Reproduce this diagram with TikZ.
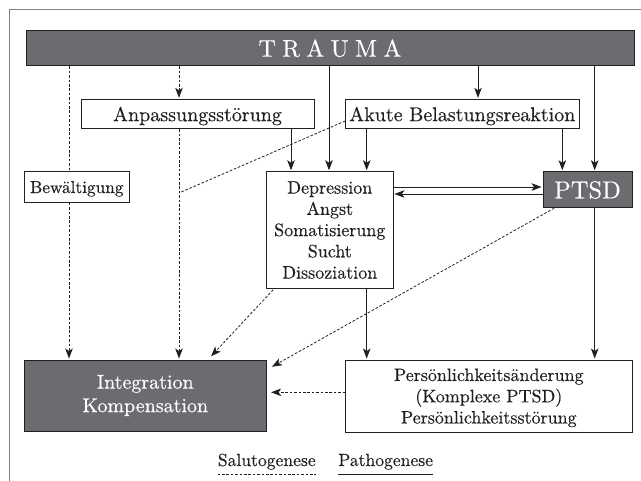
\documentclass[tikz,border=0pt]{standalone}
\usepackage{fontspec}
\setmainfont{lmroman10-regular.otf}[FakeBold=0.35]
\usetikzlibrary{arrows.meta,calc}
\definecolor{boxgray}{HTML}{6B6C6F}
\definecolor{ink}{HTML}{231F20}
\definecolor{framegray}{HTML}{808080}
\tikzset{
  box/.style={draw=ink, line width=0.9pt, fill=white, text=ink, inner sep=0pt, align=center},
  darkbox/.style={box, fill=boxgray, text=white},
  tip/.style={-{Stealth[length=10pt,width=7.5pt,inset=2.5pt]}},
  solline/.style={draw=ink, line width=0.9pt},
  solarrow/.style={solline, tip, shorten >=1pt},
  dashline/.style={draw=ink, line width=0.8pt, dash pattern=on 2.6pt off 1.8pt},
  dasharrow/.style={dashline, tip, shorten >=1pt},
  fa/.style={font=\fontsize{20}{23.5}\selectfont},
  fb/.style={font=\fontsize{18}{21.25}\selectfont},
}
\begin{document}
\begin{tikzpicture}[x=1pt,y=-1pt]
\useasboundingbox (0,0) rectangle (641,481);
% frame
\draw[framegray, line width=1pt] (9,481) -- (9,10) -- (641,10);

% nodes
\node[darkbox, minimum width=608pt, minimum height=35.3pt, font=\fontsize{24}{28}\selectfont] (trauma) at (330,48.3)
  {T\hspace{6.4pt}R\hspace{6.4pt}A\hspace{6.4pt}U\hspace{6.4pt}M\hspace{6.4pt}A};
\node[box, fa, minimum width=233pt, minimum height=29.4pt, text depth=0pt] (anpass) at (197.5,114) {Anpassungsstörung};
\node[box, fa, minimum width=233.3pt, minimum height=29.4pt, text depth=0pt] (akute) at (462.3,114) {Akute Belastungsreaktion};
\node[box, font=\fontsize{17.3}{20}\selectfont, minimum width=105pt, minimum height=30.6pt, text depth=0pt] (bew) at (76.8,187) {Bewältigung};
\node[box, fb, minimum width=126.3pt, minimum height=116.6pt] (dep) at (329.8,230)
  {Depression\\Angst\\Somatisierung\\Sucht\\Dissoziation};
\node[darkbox, minimum width=89pt, minimum height=36pt, font=\fontsize{24.5}{28}\selectfont, text depth=0pt] (ptsd) at (587.5,189.7) {PTSD};
\node[darkbox, fa, minimum width=242.7pt, minimum height=71pt] (integ) at (145.3,395.5) {Integration\\Kompensation};
\node[box, fb, minimum width=286.3pt, minimum height=72pt, text depth=0pt] (pers) at (488.8,396)
  {Persönlichkeitsänderung\\(Komplexe PTSD)\\Persönlichkeitsstörung};

% x positions of vertical connectors
\coordinate (xb) at (69,0);
\coordinate (xa) at (179,0);
\coordinate (xc) at (291,0);
\coordinate (xd) at (329,0);
\coordinate (xe) at (366.7,0);
\coordinate (xf) at (478,0);
\coordinate (xg) at (562.3,0);
\coordinate (xh) at (594.7,0);
\coordinate (yu) at (0,187);
\coordinate (yl) at (0,194);

% salutogenese (dashed)
\draw[dashline] (trauma.south -| xb) -- (bew.north -| xb);
\draw[dasharrow] (bew.south -| xb) -- (integ.north -| xb);
\draw[dasharrow] (trauma.south -| xa) -- (anpass.north -| xa);
\draw[dasharrow] (anpass.south -| xa) -- (integ.north -| xa);
\coordinate (meet) at (179,193);
\draw[dashline] ($(akute.west)+(0,7)$) -- (meet);
\draw[dasharrow] ($(dep.south west)+(7,1)$) -- ($(integ.north east)+(-56.7,-2.5)$);
\draw[dasharrow] ($(ptsd.south west)+(11.7,0)$) -- ($(integ.north east)+(4,7.7)$);
\coordinate (pl) at ($(pers.west)+(0,-3.7)$);
\draw[dasharrow] (pl) -- ($(integ.east |- pl)+(3,0)$);

% pathogenese (solid)
\draw[solarrow] (trauma.south -| xd) -- (dep.north -| xd);
\draw[solarrow] (trauma.south -| xf) -- (akute.north -| xf);
\draw[solarrow] (trauma.south -| xh) -- (ptsd.north -| xh);
\draw[solarrow] (anpass.south -| xc) -- (dep.north -| xc);
\draw[solarrow] (akute.south -| xe) -- (dep.north -| xe);
\draw[solarrow] (akute.south -| xg) -- (ptsd.north -| xg);
\draw[solarrow] (dep.east |- yu) -- (ptsd.west |- yu);
\draw[solarrow] (ptsd.west |- yl) -- (dep.east |- yl);
\draw[solarrow] (dep.south -| xe) -- (pers.north -| xe);
\draw[solarrow] (ptsd.south -| xh) -- (pers.north -| xh);

% legend
\node[anchor=base, font=\fontsize{17.6}{20}\selectfont, text=ink, inner sep=0pt] (salu) at (266.8,466) {Salutogenese};
\node[anchor=base, font=\fontsize{17.6}{20}\selectfont, text=ink, inner sep=0pt] (patho) at (385.7,466) {Pathogenese};
\draw[dashline] ($(salu.base west)+(0,8)$) -- ($(salu.base east)+(0,8)$);
\draw[solline] ($(patho.base west)+(0,8)$) -- ($(patho.base east)+(0,8)$);
\end{tikzpicture}
\end{document}
